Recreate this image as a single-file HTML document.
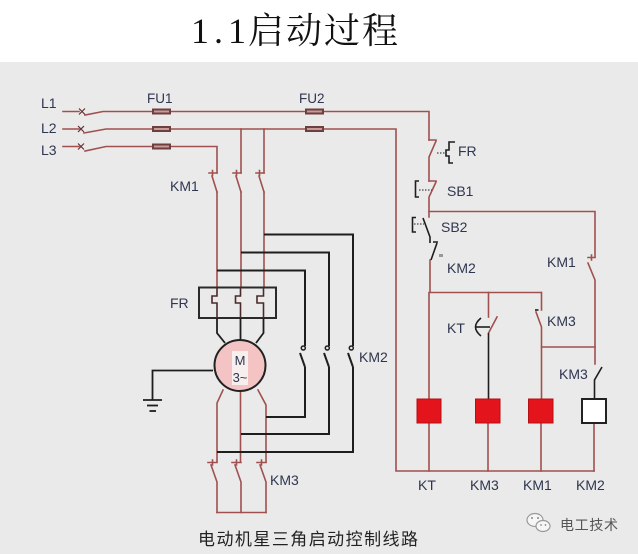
<!DOCTYPE html>
<html><head><meta charset="utf-8"><style>
html,body{margin:0;padding:0;background:#fff;}
svg{display:block;}
</style></head><body>
<svg width="638" height="554" viewBox="0 0 638 554" xmlns="http://www.w3.org/2000/svg">
<rect x="0" y="0" width="638" height="62" fill="#fff"/>
<rect x="0" y="62" width="638" height="492" fill="#eaeaea"/>

<!-- Title -->
<g font-family="'Liberation Serif','Noto Serif CJK SC',serif" font-size="36" fill="#111">
<text x="191" y="43">1</text>
<text x="214" y="43">.</text>
<text x="228" y="43">1</text>
<text x="248" y="43" font-family="'Noto Serif CJK SC',serif" textLength="150" lengthAdjust="spacing">启动过程</text>
</g>

<!-- brown wires -->
<g stroke="#a0504e" stroke-width="1.6" fill="none" stroke-linecap="square">
<!-- L1 -->
<path d="M63,111.5 H79"/>
<path d="M85,115 L103,111.5 H152"/>
<path d="M171,111.5 H305"/>
<path d="M324,111.5 H429 V140"/>
<!-- L2 -->
<path d="M63,129 H79"/>
<path d="M84,133 L106,129 H152"/>
<path d="M171,129 H305"/>
<path d="M324,129 H396 V471 H594"/>
<path d="M241,129 V173"/>
<path d="M264,129 V173"/>
<!-- L3 -->
<path d="M63,146.5 H79"/>
<path d="M85,151 L106,146.5 H152"/>
<path d="M171,146.5 H217 V173"/>

<!-- KM1 contacts (left) -->
<path d="M209,173 H217 M212.5,170.5 V175.5 M212,176 L217,192"/>
<path d="M233,173 H241 M236.5,170.5 V175.5 M236,176 L241,192"/>
<path d="M256,173 H264 M259.5,170.5 V175.5 M259,176 L264,192"/>
<path d="M217,192 V287.5 M241,192 V287.5 M264,192 V287.5"/>

<!-- below motor -->
<path d="M223,390 L217,403 V462"/>
<path d="M240.5,391 V462"/>
<path d="M258,390 L266,405 V462"/>
<!-- KM3 contacts (bottom) -->
<path d="M208,462.5 H217 M212.5,460 V465 M211,465 L217,482 V512.5"/>
<path d="M232,462.5 H241 M236.5,460 V465 M235,465 L241,482 V512.5"/>
<path d="M257,462.5 H266 M261.5,460 V465 M260,465 L266,482 V512.5"/>
<path d="M217,512.5 H266"/>

<!-- control circuit -->
<path d="M429,140 H436 M436,141 L429,157 V181"/>
<path d="M429,181 H436 M436,182 L429,197 V217"/>
<path d="M429,211.5 H595 V257"/>
<path d="M430,260 V292.5 H541"/>
<path d="M429,292.5 V399 M429,423 V471"/>
<path d="M488.5,292.5 V317"/>
<path d="M497,317 L488.5,333"/>
<path d="M488,423 V471"/>
<path d="M541.5,292.5 V310 M536,312 L541.5,327 V399 M541,423 V471"/>
<path d="M541.5,347 H595"/>
<path d="M588,257.5 H595 M591.5,255 V260 M588,263 L595,280 V364"/>
<path d="M594,423 V471"/>
</g>

<!-- fuses -->
<g>
<rect x="152" y="108.5" width="19" height="6" fill="#6d3f3e"/>
<rect x="154" y="110.5" width="15" height="2" fill="#c89a98"/>
<rect x="152" y="126" width="19" height="6" fill="#6d3f3e"/>
<rect x="154" y="128" width="15" height="2" fill="#c89a98"/>
<rect x="152" y="143.5" width="19" height="6" fill="#6d3f3e"/>
<rect x="154" y="145.5" width="15" height="2" fill="#c89a98"/>
<rect x="305" y="108.5" width="19" height="6" fill="#6d3f3e"/>
<rect x="307" y="110.5" width="15" height="2" fill="#c89a98"/>
<rect x="305" y="126" width="19" height="6" fill="#6d3f3e"/>
<rect x="307" y="128" width="15" height="2" fill="#c89a98"/>
</g>

<!-- switch x marks -->
<g stroke="#6a3030" stroke-width="1.2">
<path d="M79,108.5 L85,114.5 M85,108.5 L79,114.5"/>
<path d="M78,126 L84,132 M84,126 L78,132"/>
<path d="M78,143.5 L84,149.5 M84,143.5 L78,149.5"/>
</g>

<!-- black wires -->
<g stroke="#1e1e1e" stroke-width="2" fill="none">
<path d="M217,270.5 H305 V346"/>
<path d="M241,252.5 H329 V346"/>
<path d="M264,234.5 H353 V346"/>
<path d="M305,367 V417 H266"/>
<path d="M329,367 V434 H241"/>
<path d="M353,367 V452 H217"/>
<!-- KM2 contacts -->
<path d="M300,353 L305,367"/>
<path d="M324,353 L329,367"/>
<path d="M348,353 L353,367"/>
</g>
<g stroke="#1e1e1e" stroke-width="1.5" fill="none">
<circle cx="303.3" cy="348" r="2"/>
<circle cx="327.3" cy="348" r="2"/>
<circle cx="351.3" cy="348" r="2"/>
</g>

<!-- FR box -->
<rect x="199" y="287.5" width="77" height="30.5" fill="none" stroke="#2a2a2a" stroke-width="2"/>
<g stroke="#4a2a2a" stroke-width="1.6" fill="none">
<path d="M217,287.5 V296 H212 V303 H217 V318"/>
<path d="M240.5,287.5 V296 H235.5 V303 H240.5 V318"/>
<path d="M263.5,287.5 V296 H257 V303 H263.5 V318"/>
</g>
<g stroke="#1e1e1e" stroke-width="1.8" fill="none">
<path d="M217,318 V333 L225,343"/>
<path d="M240.5,318 V340"/>
<path d="M263.5,318 V333 L256,343"/>
<!-- ground -->
<path d="M213,370.5 H152.5 V400"/>
<path d="M143,400 H162"/>
<path d="M147,405.5 H158"/>
<path d="M149.5,411 H156"/>
</g>

<!-- motor -->
<circle cx="240" cy="365.5" r="25.5" fill="#f4c4c4" stroke="#222" stroke-width="2"/>
<rect x="232" y="351" width="16" height="34" fill="#f7eeee"/>
<g font-family="'Liberation Sans',sans-serif" font-size="13" fill="#2f3650" text-anchor="middle">
<text x="240" y="365">M</text>
<text x="240" y="382">3~</text>
</g>

<!-- right control black parts -->
<g stroke="#1e1e1e" stroke-width="1.6" fill="none">
<path d="M455,142 H449 V150 H446 V156 H449 V163 H453"/>
<path d="M419,181 H415.5 V197 H419"/>
<path d="M416,217.5 H412.5 V232 H416"/>
<path d="M423,218 L430,237 V243"/>
<path d="M433,242 H438 M437,243 L431,260"/>
<path d="M481,318 Q470,327 481,336"/>
<path d="M476,327 H490"/>
<path d="M488.5,333 V399"/>
<path d="M602,367 L594.5,380 V399"/>
<path d="M535,310 H538.5"/>
<path d="M440,254 V257 M442,254 V257" stroke-width="0.8"/>
</g>
<g stroke="#444" stroke-width="1.2" fill="none" stroke-dasharray="1.5,1.5">
<path d="M437,153 H446"/>
<path d="M419,190 H432"/>
<path d="M414,224 H424"/>
</g>

<!-- coils -->
<rect x="417" y="399" width="24" height="24" fill="#e3141c" stroke="#b51015" stroke-width="1"/>
<rect x="475.5" y="399" width="24.5" height="24" fill="#e3141c" stroke="#b51015" stroke-width="1"/>
<rect x="528.5" y="399" width="24.5" height="24" fill="#e3141c" stroke="#b51015" stroke-width="1"/>
<rect x="582" y="399" width="24" height="24" fill="#fff" stroke="#222" stroke-width="2"/>

<!-- labels -->
<g font-family="'Liberation Sans',sans-serif" font-size="14" fill="#2f3650">
<text x="41" y="108">L1</text>
<text x="41" y="133">L2</text>
<text x="41" y="155">L3</text>
<text x="147" y="103" font-size="13.5">FU1</text>
<text x="299" y="103" font-size="13.5">FU2</text>
<text x="170" y="191">KM1</text>
<text x="170" y="308">FR</text>
<text x="359" y="362">KM2</text>
<text x="270" y="485">KM3</text>
<text x="458" y="156">FR</text>
<text x="447" y="196">SB1</text>
<text x="441" y="232">SB2</text>
<text x="447" y="273">KM2</text>
<text x="547" y="267">KM1</text>
<text x="447" y="333">KT</text>
<text x="547" y="326">KM3</text>
<text x="559" y="379">KM3</text>
<text x="418" y="490">KT</text>
<text x="470" y="490">KM3</text>
<text x="523" y="490">KM1</text>
<text x="576" y="490">KM2</text>
</g>

<!-- caption -->
<text x="198" y="545" font-family="'Liberation Sans','Noto Sans CJK SC',sans-serif" font-size="17" fill="#222" textLength="220" lengthAdjust="spacing">电动机星三角启动控制线路</text>

<!-- watermark -->
<g stroke="#9a9a9a" stroke-width="1.2" fill="#f6f6f6">
<ellipse cx="535" cy="520" rx="8" ry="6.5"/>
<ellipse cx="543" cy="526" rx="7" ry="5.5"/>
</g>
<g fill="#888">
<circle cx="532" cy="518" r="1"/><circle cx="538" cy="518" r="1"/>
<circle cx="541" cy="525" r="0.9"/><circle cx="545.5" cy="525" r="0.9"/>
</g>
<text x="560" y="530" font-family="'Liberation Sans','Noto Sans CJK SC',sans-serif" font-size="14" fill="#555" textLength="58" lengthAdjust="spacing">电工技术</text>
</svg>
</body></html>
